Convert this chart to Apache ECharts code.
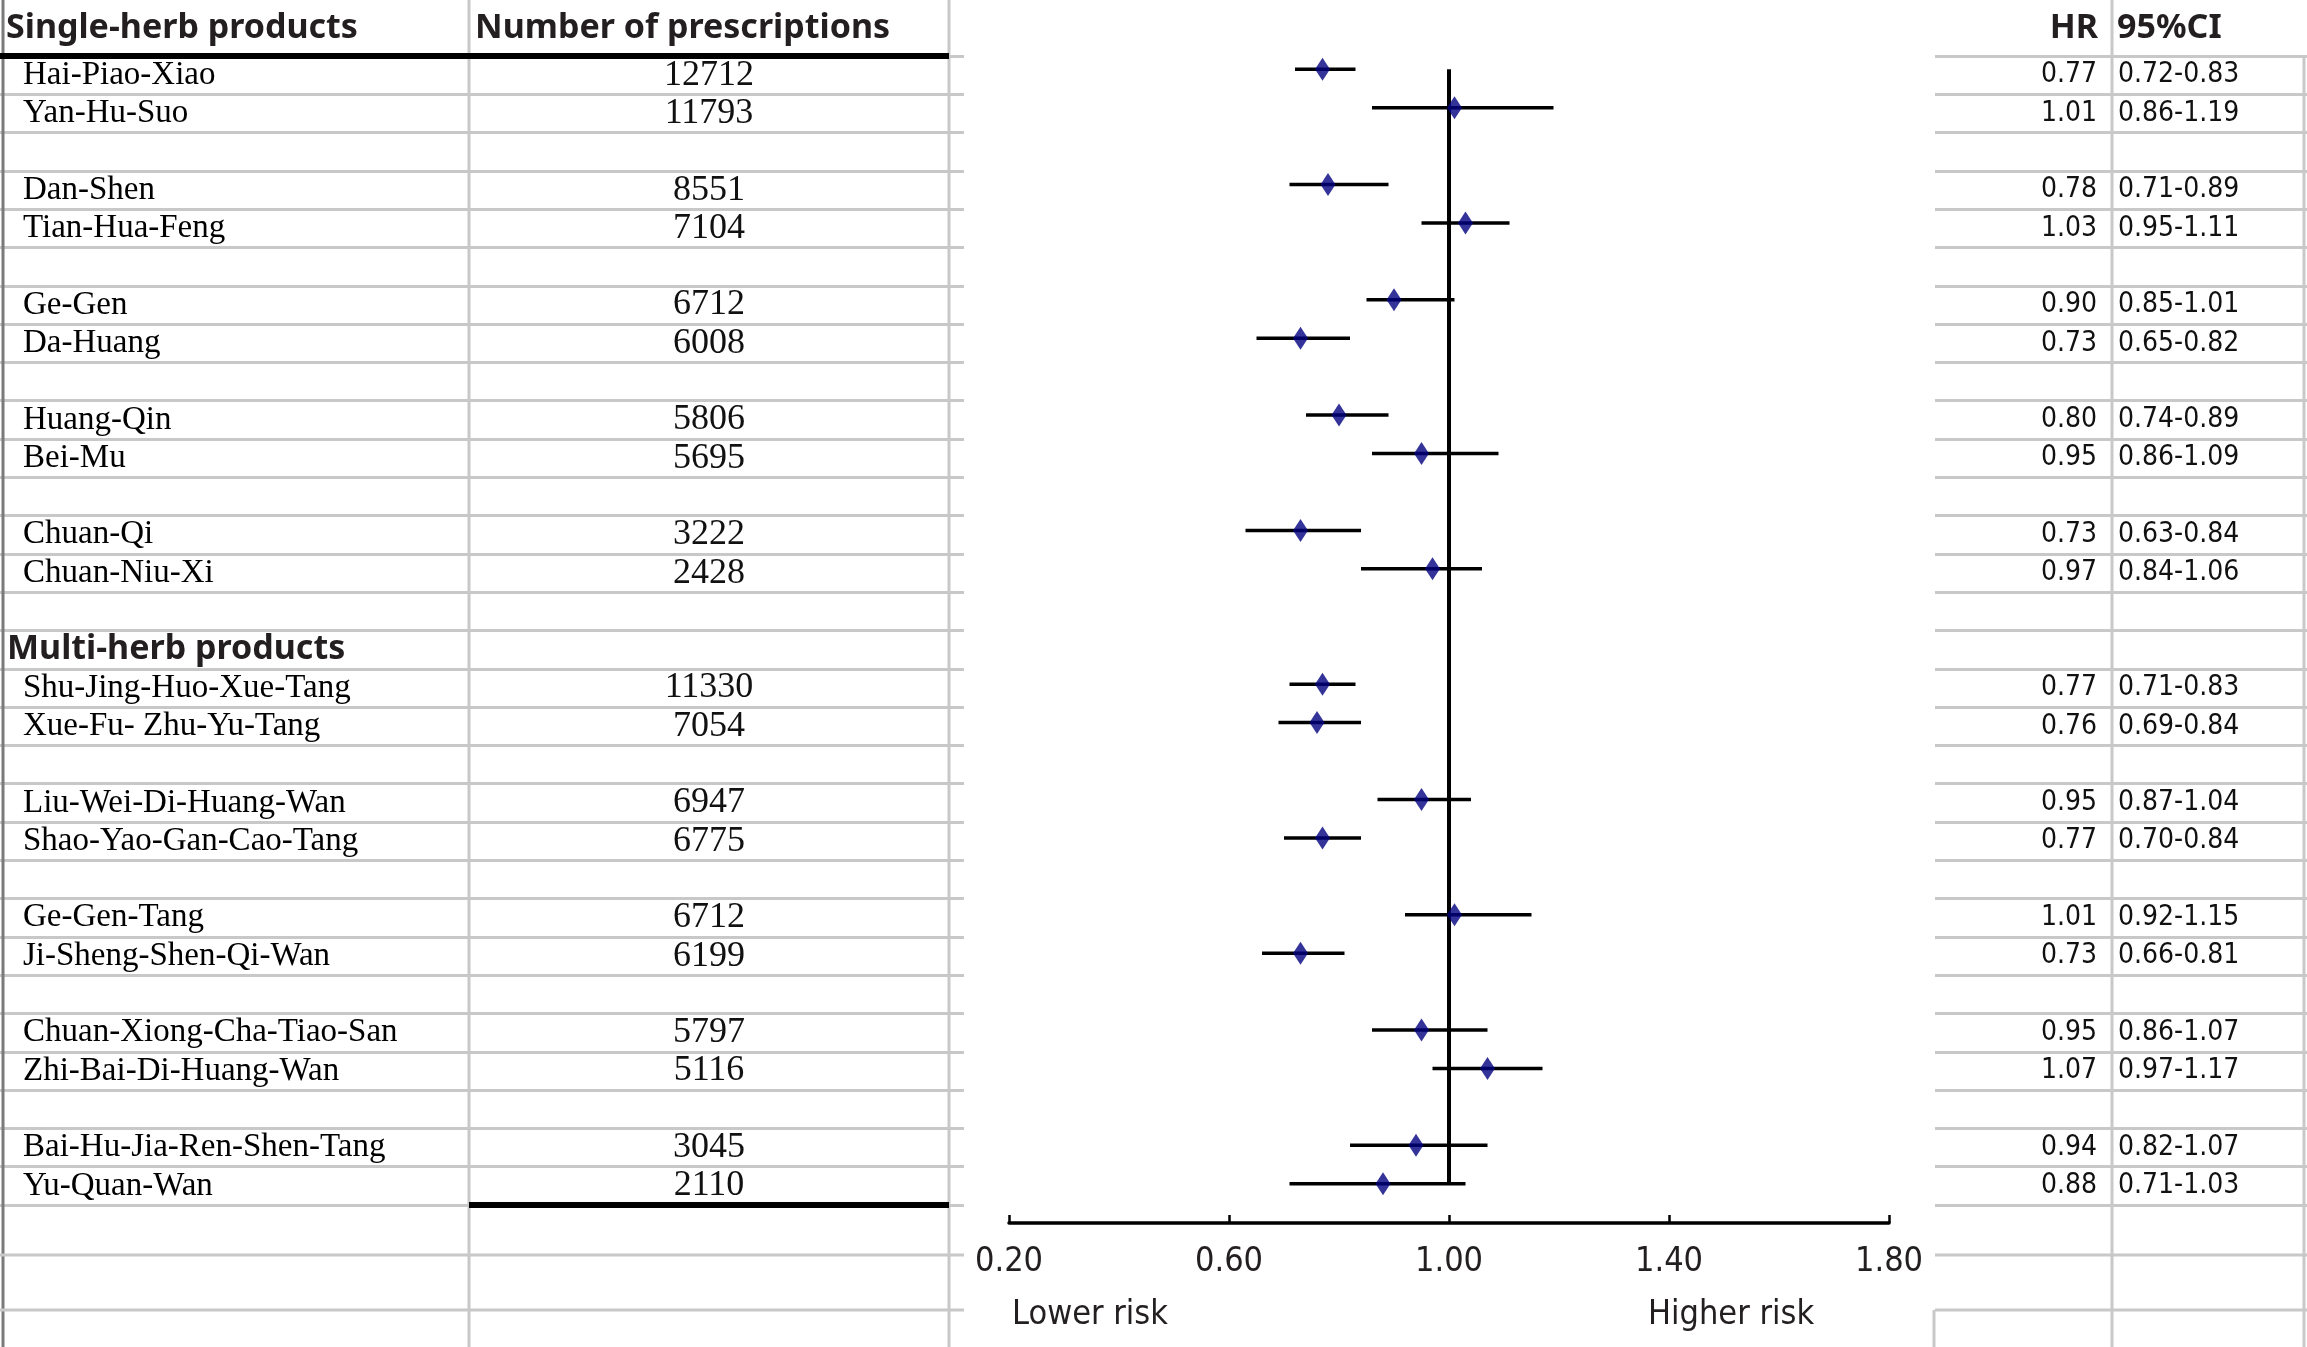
<!DOCTYPE html>
<html>
<head>
<meta charset="utf-8">
<script src="https://cdn.jsdelivr.net/npm/echarts@6/dist/echarts.min.js"></script>
<style>html,body{margin:0;padding:0;background:#fff}#c{width:2307px;height:1347px}</style>
</head>
<body>
<div id="c"></div>
<script>
// ---------- data ----------
const rows = ['Hai-Piao-Xiao','Yan-Hu-Suo','','Dan-Shen','Tian-Hua-Feng','','Ge-Gen','Da-Huang','','Huang-Qin','Bei-Mu','','Chuan-Qi','Chuan-Niu-Xi','',
  'Multi-herb products','Shu-Jing-Huo-Xue-Tang','Xue-Fu- Zhu-Yu-Tang','','Liu-Wei-Di-Huang-Wan','Shao-Yao-Gan-Cao-Tang','','Ge-Gen-Tang','Ji-Sheng-Shen-Qi-Wan','',
  'Chuan-Xiong-Cha-Tiao-San','Zhi-Bai-Di-Huang-Wan','','Bai-Hu-Jia-Ren-Shen-Tang','Yu-Quan-Wan'];
const prescriptions = [12712,11793,null,8551,7104,null,6712,6008,null,5806,5695,null,3222,2428,null,
  null,11330,7054,null,6947,6775,null,6712,6199,null,5797,5116,null,3045,2110];
const hr     = [0.77,1.01,null,0.78,1.03,null,0.90,0.73,null,0.80,0.95,null,0.73,0.97,null,
  null,0.77,0.76,null,0.95,0.77,null,1.01,0.73,null,0.95,1.07,null,0.94,0.88];
const ciLow  = [0.72,0.86,null,0.71,0.95,null,0.85,0.65,null,0.74,0.86,null,0.63,0.84,null,
  null,0.71,0.69,null,0.87,0.70,null,0.92,0.66,null,0.86,0.97,null,0.82,0.71];
const ciHigh = [0.83,1.19,null,0.89,1.11,null,1.01,0.82,null,0.89,1.09,null,0.84,1.06,null,
  null,0.83,0.84,null,1.04,0.84,null,1.15,0.81,null,1.07,1.17,null,1.07,1.03];
const groupHeader = 'Multi-herb products';
const xTicks = {min:0.2, max:1.8, interval:0.4};
const refValue = 1.0;

// ---------- derived ----------
const serif = 'Liberation Serif, Times New Roman, serif';
const sans = "'DejaVu Sans Condensed', 'DejaVu Sans', sans-serif";
const boldSans = "'Noto Sans', 'DejaVu Sans', sans-serif";
const gridGray = '#c8c8c8';
const inkDark = '#231f20';

const nameData = rows.map(r => r === groupHeader
  ? {value:r, textStyle:{fontFamily:boldSans, fontWeight:'bold', fontSize:34, color:inkDark, padding:[0,0,20,0]}}
  : r);
const numData = prescriptions.map(v => v == null ? '' : String(v));
const hrData = hr.map(v => v == null ? '' : v.toFixed(2));
const ciData = ciLow.map((v,i) => v == null ? '' : v.toFixed(2) + '-' + ciHigh[i].toFixed(2));

const pts = [], bars = [];
hr.forEach((v,i) => { if (v != null) { pts.push([v, i]); bars.push([ciLow[i], ciHigh[i], i]); } });
const firstIdx = hr.findIndex(v => v != null);
let lastIdx = 0; hr.forEach((v,i)=>{ if (v != null) lastIdx = i; });

const tableTop = 56, tableH = 1149;
function tableY(gi, extra) {
  return Object.assign({
    type:'category', gridIndex:gi, inverse:true,
    axisLine:{show:false}, axisTick:{show:false},
    splitLine:{show:true, interval:0, lineStyle:{color:gridGray, width:3}},
  }, extra);
}
const hiddenX = gi => ({type:'value', gridIndex:gi, show:false});
const headStyle = {fontFamily:boldSans, fontWeight:'bold', fontSize:34, lineHeight:38, color:inkDark};
const riskStyle = {fontFamily:sans, fontWeight:'normal', fontSize:34, lineHeight:38, color:inkDark};

const option = {
  backgroundColor:'#fff',
  animation:false,
  title:[
    {text:'Single-herb products', left:6, top:9, padding:0, textStyle:headStyle},
    {text:'Number of prescriptions', left:475, top:9, padding:0, textStyle:headStyle},
    {text:'HR', right:209, top:9, padding:0, textStyle:headStyle},
    {text:'95%CI', left:2117, top:9, padding:0, textStyle:headStyle},
    {text:'Lower risk', left:1012, top:1296, padding:0, textStyle:riskStyle},
    {text:'Higher risk', left:1648, top:1296, padding:0, textStyle:riskStyle}
  ],
  grid:[
    {left:0, top:tableTop, width:469, height:tableH},
    {left:469, top:tableTop, width:495, height:tableH},
    {left:1935, top:tableTop, width:177, height:tableH},
    {left:2112, top:tableTop, width:195, height:tableH},
    {left:1009, top:50, width:880, height:1153}
  ],
  xAxis:[
    hiddenX(0), hiddenX(1), hiddenX(2), hiddenX(3),
    {type:'value', gridIndex:4, min:xTicks.min, max:xTicks.max, interval:xTicks.interval,
     position:'bottom', offset:20,
     axisLine:{show:true, lineStyle:{color:'#000', width:3.5}},
     axisTick:{show:true, inside:true, length:8, lineStyle:{color:'#000', width:2.5}},
     splitLine:{show:false},
     axisLabel:{margin:22, fontFamily:sans, fontSize:34, color:inkDark, formatter:v => v.toFixed(2)}}
  ],
  yAxis:[
    tableY(0, {data:nameData, axisLabel:{inside:true, interval:0, margin:7, padding:[0,0,0,16], fontFamily:serif, fontSize:33, color:'#000'}}),
    tableY(1, {data:numData, axisLabel:{inside:true, interval:0, margin:240, align:'center', fontFamily:serif, fontSize:36, color:'#111'}}),
    tableY(2, {data:hrData, position:'right', axisLabel:{inside:true, interval:0, margin:15, align:'right', fontFamily:sans, fontSize:28, color:'#111'}}),
    tableY(3, {data:ciData, axisLabel:{inside:true, interval:0, margin:6, align:'left', fontFamily:sans, fontSize:28, color:'#111'}}),
    {type:'category', gridIndex:4, inverse:true, data:rows.map((r,i)=>'r'+i), show:false}
  ],
  series:[
    {type:'line', xAxisIndex:4, yAxisIndex:4, data:[[refValue, firstIdx],[refValue, lastIdx]],
     symbol:'none', lineStyle:{color:'#000', width:4}, z:2, silent:true},
    {type:'custom', xAxisIndex:4, yAxisIndex:4, data:bars, encode:{x:[0,1], y:2}, z:3,
     renderItem:(params, api) => {
       const a = api.coord([api.value(0), api.value(2)]);
       const b = api.coord([api.value(1), api.value(2)]);
       return {type:'line', shape:{x1:a[0], y1:a[1], x2:b[0], y2:b[1]}, style:{stroke:'#000', lineWidth:3.5}};
     }},
    {type:'scatter', xAxisIndex:4, yAxisIndex:4, data:pts, symbol:'diamond', symbolSize:[15,23],
     itemStyle:{color:'#000080'}, z:4}
  ],
  graphic:[
    {type:'line', shape:{x1:3, y1:0, x2:3, y2:1347}, style:{stroke:'#7a7a7a', lineWidth:3}, z:10},
    {type:'line', shape:{x1:469, y1:0, x2:469, y2:1347}, style:{stroke:gridGray, lineWidth:3}, z:10},
    {type:'line', shape:{x1:949, y1:0, x2:949, y2:1347}, style:{stroke:gridGray, lineWidth:3}, z:10},
    {type:'line', shape:{x1:2112, y1:0, x2:2112, y2:1347}, style:{stroke:gridGray, lineWidth:3}, z:10},
    {type:'line', shape:{x1:2304, y1:56, x2:2304, y2:1347}, style:{stroke:gridGray, lineWidth:3}, z:10},
    {type:'line', shape:{x1:1934, y1:1310, x2:1934, y2:1347}, style:{stroke:gridGray, lineWidth:3}, z:10},
    {type:'line', shape:{x1:0, y1:1255, x2:964, y2:1255}, style:{stroke:gridGray, lineWidth:3}, z:10},
    {type:'line', shape:{x1:0, y1:1310, x2:964, y2:1310}, style:{stroke:gridGray, lineWidth:3}, z:10},
    {type:'line', shape:{x1:1935, y1:1255, x2:2307, y2:1255}, style:{stroke:gridGray, lineWidth:3}, z:10},
    {type:'line', shape:{x1:1935, y1:1310, x2:2307, y2:1310}, style:{stroke:gridGray, lineWidth:3}, z:10},
    {type:'line', shape:{x1:0, y1:56, x2:949, y2:56}, style:{stroke:'#000', lineWidth:6}, z:11},
    {type:'line', shape:{x1:469, y1:1205, x2:949, y2:1205}, style:{stroke:'#000', lineWidth:6}, z:11}
  ]
};
const chart = echarts.init(document.getElementById('c'), null, {renderer:'canvas'});
chart.setOption(option);
</script>
</body>
</html>
